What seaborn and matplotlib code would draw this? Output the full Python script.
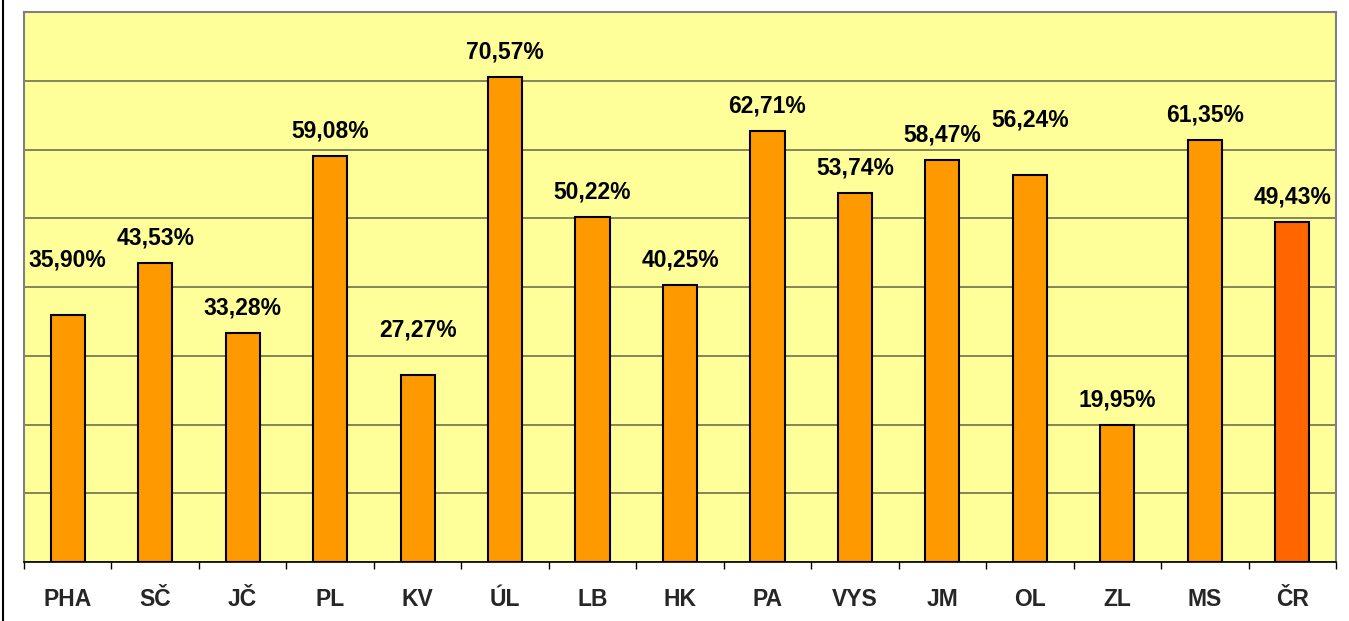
import matplotlib
matplotlib.use("Agg")
import matplotlib.pyplot as plt
import seaborn as sns
import pandas as pd
from matplotlib.lines import Line2D

categories = ["PHA", "SČ", "JČ", "PL", "KV", "ÚL", "LB", "HK", "PA", "VYS", "JM", "OL", "ZL", "MS", "ČR"]
values = [35.90, 43.53, 33.28, 59.08, 27.27, 70.57, 50.22, 40.25, 62.71, 53.74, 58.47, 56.24, 19.95, 61.35, 49.43]
labels = ["35,90%", "43,53%", "33,28%", "59,08%", "27,27%", "70,57%", "50,22%", "40,25%",
          "62,71%", "53,74%", "58,47%", "56,24%", "19,95%", "61,35%", "49,43%"]
# extra vertical label offsets in points (labels lifted further above some bars)
extra_offset = [22, 0, 0, 0, 14, 0, 0, 0, 0, 0, 0, 22, 0, 0, 0]

colors = ["#FF9900"] * 14 + ["#FF6600"]

sns.set_theme(style="white")
plt.rcParams['font.family'] = ['Liberation Sans', 'DejaVu Sans']

fig = plt.figure(figsize=(13.49, 6.21), dpi=100)
ax = fig.add_axes([24/1349, 59/621, 1312/1349, 550/621])
ax.set_facecolor("#FFFF99")

df = pd.DataFrame({"cat": categories, "val": values})
sns.barplot(data=df, x="cat", y="val", hue="cat", palette=colors, legend=False,
            width=0.39, edgecolor="black", linewidth=1.5, ax=ax, zorder=3, saturation=1)

ax.set_ylim(0, 80)
ax.set_xlim(-0.5, len(categories) - 0.5)
ax.set_yticks(range(0, 81, 10))
ax.yaxis.grid(True, color="#6F6F50", linewidth=1.2, zorder=0)
ax.set_axisbelow(True)
ax.tick_params(axis="y", left=False, labelleft=False)

# x ticks between categories
ax.set_xticks([i for i in range(len(categories))])
ax.set_xticklabels(categories, fontsize=16.5, fontweight="bold")
ax.tick_params(axis="x", length=0, pad=19)
ax.set_xticks([i - 0.5 for i in range(len(categories) + 1)], minor=True)
ax.tick_params(axis="x", which="minor", length=5, width=1, color="black", direction="out", bottom=True)
ax.set_xlabel("")
ax.set_ylabel("")

for sp in ["left", "top", "right"]:
    ax.spines[sp].set_color("#808080")
    ax.spines[sp].set_linewidth(1.5)
ax.spines["bottom"].set_color("black")
ax.spines["bottom"].set_linewidth(1.2)

for i, (v, lab, off) in enumerate(zip(values, labels, extra_offset)):
    ax.annotate(lab, xy=(i, v), xytext=(0, 18 + off), textcoords="offset points",
                ha="center", va="center", fontsize=16.5, fontweight="bold", color="black", zorder=5)

fig.add_artist(Line2D([3/1349, 3/1349], [0, 1], transform=fig.transFigure, color="black", linewidth=1.5))

fig.savefig("out.png", dpi=100, facecolor="white")
